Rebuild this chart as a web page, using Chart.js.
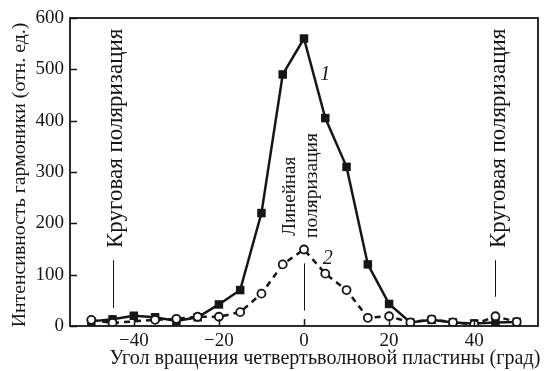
<!DOCTYPE html>
<html>
<head>
<meta charset="utf-8">
<script src="https://cdn.jsdelivr.net/npm/chart.js@4.4.0/dist/chart.umd.min.js"></script>
<style>
  html, body { margin: 0; padding: 0; background: #fff; }
  #wrap { width: 544px; height: 371px; }
</style>
</head>
<body>
<div id="wrap"><canvas id="c" width="544" height="371"></canvas></div>
<script>
// Rotation angle of the quarter-wave plate, degrees
const angles = [-50, -45, -40, -35, -30, -25, -20, -15, -10, -5, 0, 5, 10, 15, 20, 25, 30, 35, 40, 45, 50];
// Curve 1 (filled squares)
const curve1 = [9, 13, 20, 17, 10, 17, 42, 70, 220, 490, 560, 405, 310, 120, 43, 7, 12, 7, 5, 7, 8];
// Curve 2 (open circles, dashed); no point at -40
const curve2 = [12, 6, null, 12, 14, 18, 18, 27, 63, 120, 149, 102, 70, 16, 19, 7, 13, 7, 3, 19, 8];

const xTicks = [-40, -20, 0, 20, 40];
const yTicks = [0, 100, 200, 300, 400, 500, 600];

const xTitle = 'Угол вращения четвертьволновой пластины (град)';
const yTitle = 'Интенсивность гармоники (отн. ед.)';
const circularLabel = 'Круговая поляризация';
const linearLabel = ['Линейная', 'поляризация'];

const SERIF = '"Liberation Serif", "DejaVu Serif", serif';
const INK = '#161616';

const toPoints = arr => angles.map((a, i) => ({ x: a, y: arr[i] }));

// Frame, inward ticks, axis titles and text annotations
const decorations = {
  id: 'decorations',
  afterDraw(chart) {
    const { ctx, chartArea: a, scales: { x, y } } = chart;
    ctx.save();
    ctx.strokeStyle = INK;
    ctx.fillStyle = INK;

    // plot frame
    ctx.lineWidth = 1.8;
    ctx.strokeRect(a.left, a.top, a.right - a.left, a.bottom - a.top);

    // inward tick marks
    ctx.lineWidth = 1.5;
    ctx.beginPath();
    yTicks.forEach(v => {
      const py = Math.round(y.getPixelForValue(v)) + 0.5;
      ctx.moveTo(a.left, py); ctx.lineTo(a.left + 7, py);
    });
    xTicks.forEach(v => {
      const px = Math.round(x.getPixelForValue(v)) + 0.5;
      ctx.moveTo(px, a.bottom); ctx.lineTo(px, a.bottom - 7);
    });
    ctx.stroke();

    // marker lines under the polarization labels
    ctx.lineWidth = 1;
    const vline = (xv, y0, y1) => {
      const px = Math.round(x.getPixelForValue(xv)) + 0.5;
      ctx.beginPath();
      ctx.moveTo(px, y.getPixelForValue(y0));
      ctx.lineTo(px, y.getPixelForValue(y1));
      ctx.stroke();
    };
    vline(-45, 35, 128);
    vline(45, 57, 128);
    vline(0, 30, 122);

    // vertical text helper (reads bottom to top)
    const vtext = (txt, px, py, font) => {
      ctx.save();
      ctx.translate(px, py);
      ctx.rotate(-Math.PI / 2);
      ctx.font = font;
      ctx.textAlign = 'left';
      ctx.textBaseline = 'alphabetic';
      ctx.fillText(txt, 0, 0);
      ctx.restore();
    };
    vtext(circularLabel, x.getPixelForValue(-45) + 9, 248, `23px ${SERIF}`);
    vtext(circularLabel, x.getPixelForValue(45) + 10, 248, `23px ${SERIF}`);
    vtext(linearLabel[0], x.getPixelForValue(0) - 9, 236, `19px ${SERIF}`);
    vtext(linearLabel[1], x.getPixelForValue(0) + 13, 238, `19.5px ${SERIF}`);

    // curve numbers
    ctx.font = `italic 20px ${SERIF}`;
    ctx.textAlign = 'center';
    ctx.textBaseline = 'middle';
    ctx.fillText('1', x.getPixelForValue(5), y.getPixelForValue(490));
    ctx.fillText('2', x.getPixelForValue(5.6), y.getPixelForValue(131));

    // axis titles
    ctx.font = `20.1px ${SERIF}`;
    ctx.textAlign = 'center';
    ctx.textBaseline = 'alphabetic';
    ctx.fillText(xTitle, 325, 364);
    ctx.save();
    ctx.translate(25, 175);
    ctx.rotate(-Math.PI / 2);
    ctx.font = `19.8px ${SERIF}`;
    ctx.fillText(yTitle, 0, 0);
    ctx.restore();

    ctx.restore();
  }
};

new Chart(document.getElementById('c'), {
  type: 'line',
  data: {
    datasets: [
      {
        label: '2',
        data: toPoints(curve2),
        order: 0,
        borderColor: INK,
        borderWidth: 2.5,
        borderDash: [6, 5],
        spanGaps: true,
        pointStyle: 'circle',
        pointRadius: 4,
        pointBorderWidth: 1.8,
        pointBackgroundColor: '#fff',
        pointBorderColor: INK,
        tension: 0
      },
      {
        label: '1',
        data: toPoints(curve1),
        order: 1,
        borderColor: INK,
        borderWidth: 2.5,
        pointStyle: 'rect',
        pointRadius: 6,
        pointBorderWidth: 0,
        pointBackgroundColor: INK,
        pointBorderColor: INK,
        tension: 0
      }
    ]
  },
  options: {
    responsive: false,
    animation: false,
    devicePixelRatio: 1,
    layout: { padding: { top: 18, right: 3, left: 0, bottom: 0 } },
    plugins: { legend: { display: false }, tooltip: { enabled: false } },
    scales: {
      x: {
        type: 'linear',
        min: -55,
        max: 55,
        afterBuildTicks: s => { s.ticks = xTicks.map(v => ({ value: v })); },
        afterFit: s => { s.height = 45; },
        grid: { display: false, drawTicks: false },
        border: { display: false },
        ticks: {
          padding: 4,
          color: INK,
          font: { family: SERIF, size: 19 },
          callback: v => String(v).replace('-', '\u2212')
        }
      },
      y: {
        type: 'linear',
        min: 0,
        max: 600,
        afterBuildTicks: s => { s.ticks = yTicks.map(v => ({ value: v })); },
        afterFit: s => { s.width = 70; },
        grid: { display: false, drawTicks: false },
        border: { display: false },
        ticks: {
          padding: 6,
          color: INK,
          font: { family: SERIF, size: 19 }
        }
      }
    }
  },
  plugins: [decorations]
});
</script>
</body>
</html>
